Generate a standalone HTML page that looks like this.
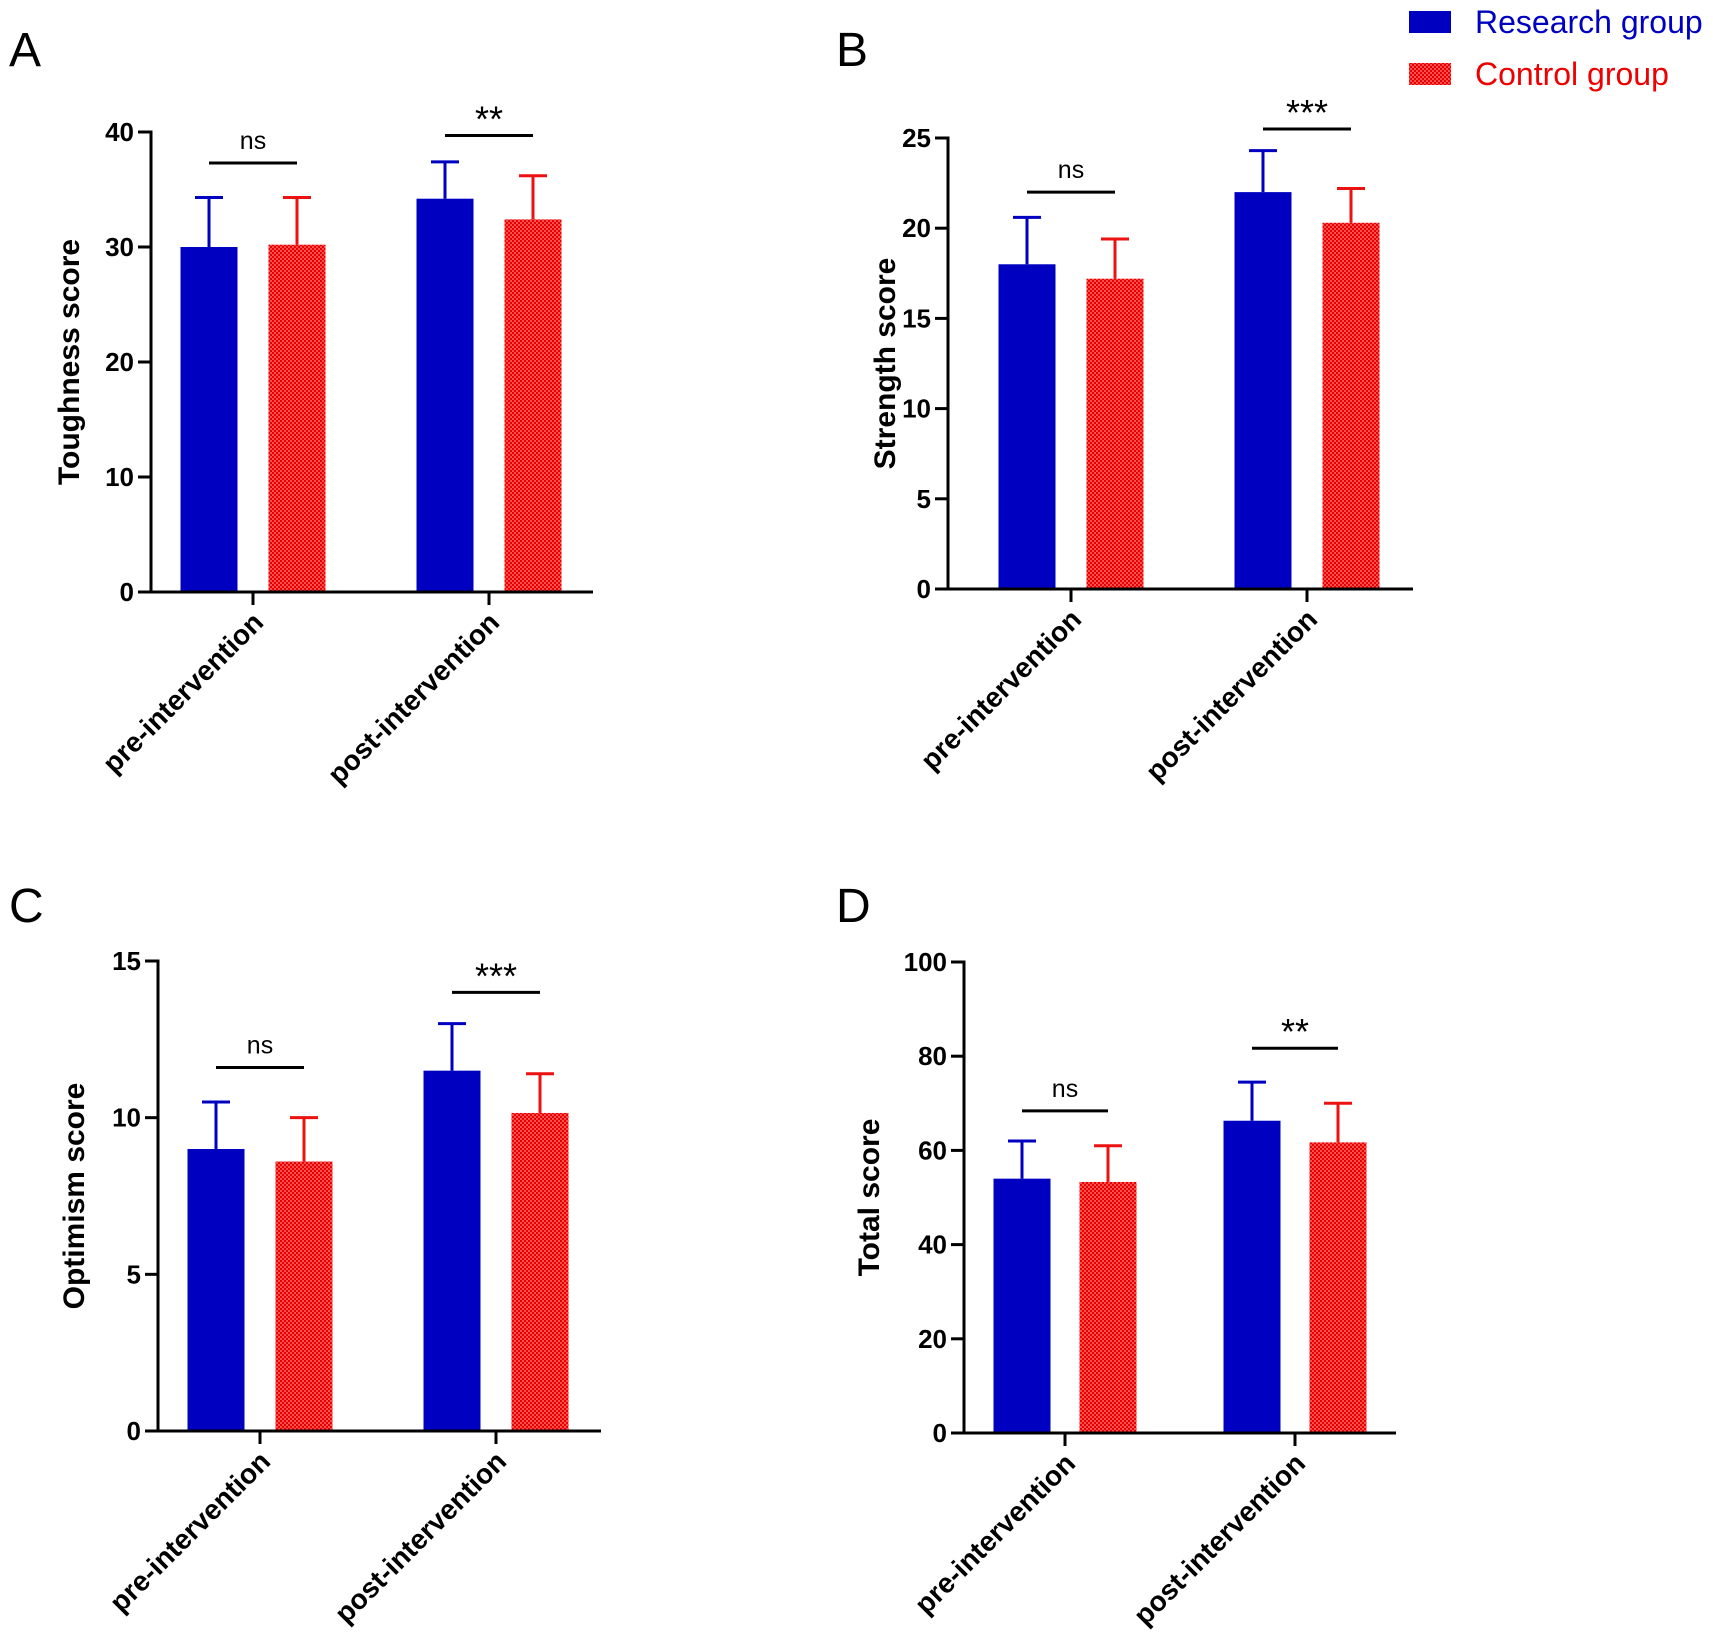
<!DOCTYPE html>
<html><head><meta charset="utf-8"><style>
html,body{margin:0;padding:0;background:#fff;}
svg{display:block;font-family:"Liberation Sans",Arial,sans-serif;}
</style></head><body>
<svg id="chart" width="1713" height="1650" viewBox="0 0 1713 1650">
<defs>
<pattern id="chk" width="4" height="4" patternUnits="userSpaceOnUse">
<rect width="4" height="4" fill="#ff5050"/><rect width="2" height="2" fill="#e80000"/><rect x="2" y="2" width="2" height="2" fill="#e80000"/>
</pattern>
</defs>
<g>
<rect x="1409" y="11" width="42" height="22" fill="#0000c0"/>
<text x="1475" y="33" font-size="32" fill="#0000c0">Research group</text>
<rect x="1409" y="63" width="42" height="22" fill="url(#chk)"/>
<text x="1475" y="85" font-size="32" fill="#ee0000">Control group</text>
</g>
</svg>
<script>
const categories = ["pre-intervention", "post-intervention"];
const panelLetters = ["A", "B", "C", "D"];
const yTitles = ["Toughness score", "Strength score", "Optimism score", "Total score"];
const researchMeans = [[30, 34.2], [18, 22], [9.0, 11.5], [54, 66.3]];
const researchErrTop = [[34.3, 37.4], [20.6, 24.3], [10.5, 13.0], [62, 74.5]];
const controlMeans = [[30.2, 32.4], [17.2, 20.3], [8.6, 10.15], [53.3, 61.7]];
const controlErrTop = [[34.3, 36.2], [19.4, 22.2], [10.0, 11.4], [61, 70]];
const yMax = [40, 25, 15, 100];
const yStep = [10, 5, 5, 20];
const sigLabels = [["ns", "**"], ["ns", "***"], ["ns", "***"], ["ns", "**"]];
const sigLevels = [[37.3, 39.7], [22.0, 25.5], [11.6, 14.0], [68.4, 81.7]];

// layout (not data)
const layout = [
  {ax:151, y0:592, yTop:132, xEnd:593, letterX:9, letterY:66, titleX:71, groupX:[253,489], off:44},
  {ax:948, y0:589, yTop:138, xEnd:1413, letterX:836, letterY:66, titleX:887, groupX:[1071,1307], off:44},
  {ax:158, y0:1431, yTop:961, xEnd:601, letterX:9, letterY:922, titleX:76, groupX:[260,496], off:44},
  {ax:964, y0:1433, yTop:962, xEnd:1396, letterX:836, letterY:922, titleX:871, groupX:[1065,1295], off:43}
];
const svg = document.getElementById('chart');
const NS = 'http://www.w3.org/2000/svg';
function mk(tag, attrs, parent){const e=document.createElementNS(NS,tag);for(const k in attrs)e.setAttribute(k,attrs[k]);parent.appendChild(e);return e;}

layout.forEach((L, p) => {
  const g = mk('g', {}, svg);
  
  
  const y = v => L.y0 - (v / yMax[p]) * (L.y0 - L.yTop);
  const bw = 57;
  const letter = mk('text', {x:L.letterX, y:L.letterY, 'font-size':48}, g);
  letter.textContent = panelLetters[p];
  
  
  categories.forEach((c, i) => {
    const cx = L.groupX[i];
    const series = [
      {m:researchMeans[p][i], e:researchErrTop[p][i], x:cx - L.off, fill:'#0000c0', stroke:'#0000c0', n:'research'},
      {m:controlMeans[p][i], e:controlErrTop[p][i], x:cx + L.off, fill:'url(#chk)', stroke:'#ee1111', n:'control'}
    ];
    series.forEach(s => {
      const err = mk('line', {x1:s.x, x2:s.x, y1:y(s.m), y2:y(s.e), stroke:s.stroke, 'stroke-width':3}, g);
      
      
      const cap = mk('line', {x1:s.x - 14, x2:s.x + 14, y1:y(s.e), y2:y(s.e), stroke:s.stroke, 'stroke-width':3}, g);
      
      
      const r = mk('rect', {x:s.x - bw/2, y:y(s.m), width:bw, height:L.y0 - y(s.m), fill:s.fill}, g);
      
      
    });
    const sy = y(sigLevels[p][i]);
    const sl = mk('line', {x1:cx - L.off, x2:cx + L.off, y1:sy, y2:sy, stroke:'#000', 'stroke-width':3}, g);
    
    
    const isNs = sigLabels[p][i] === 'ns';
    const st = mk('text', {x:cx, y:isNs ? sy - 14 : sy - 4, 'font-size':isNs ? 25 : 36, 'text-anchor':'middle'}, g);
    st.textContent = sigLabels[p][i];
    
    
    const tk = mk('line', {x1:cx, x2:cx, y1:L.y0, y2:L.y0 + 13, stroke:'#000', 'stroke-width':3}, g);
    
    
    const lx = cx + 12, ly = L.y0 + 32;
    const xl = mk('text', {x:lx, y:ly, 'font-size':28, 'font-weight':'bold', 'text-anchor':'end', transform:`rotate(-45 ${lx} ${ly})`}, g);
    xl.textContent = c;
    
    
  });
  const ya = mk('line', {x1:L.ax, x2:L.ax, y1:L.yTop - 1.5, y2:L.y0 + 1.5, stroke:'#000', 'stroke-width':3}, g);
  
  
  const xa = mk('line', {x1:L.ax - 13, x2:L.xEnd, y1:L.y0, y2:L.y0, stroke:'#000', 'stroke-width':3}, g);
  
  
  for (let v = 0; v <= yMax[p]; v += yStep[p]) {
    const t = mk('line', {x1:L.ax - 13, x2:L.ax, y1:y(v), y2:y(v), stroke:'#000', 'stroke-width':3}, g);
    
    
    const tl = mk('text', {x:L.ax - 17, y:y(v) + 9, 'font-size':26, 'font-weight':'bold', 'text-anchor':'end'}, g);
    tl.textContent = v;
    
    
  }
  const cyT = (L.y0 + L.yTop) / 2;
  const yt = mk('text', {x:L.titleX, y:cyT, 'font-size':30, 'font-weight':'bold', 'text-anchor':'middle', transform:`rotate(-90 ${L.titleX} ${cyT})`, 'dominant-baseline':'middle'}, g);
  yt.textContent = yTitles[p];
  
  
});
</script>
</body></html>
